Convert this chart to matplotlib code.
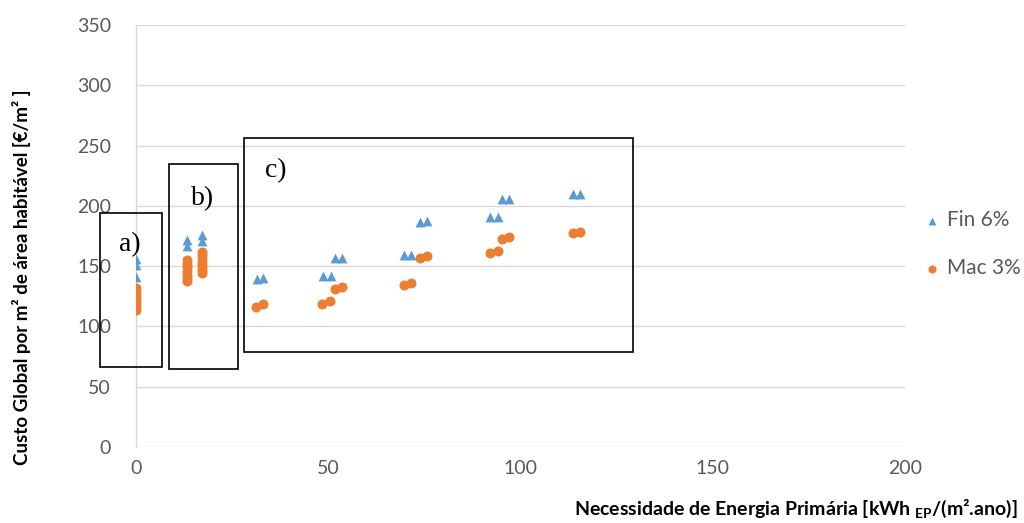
import matplotlib
matplotlib.use("Agg")
import matplotlib.pyplot as plt
from matplotlib.patches import Rectangle

# Primary energy need [kWh_EP/(m².ano)] and global cost [€/m²]
fin_x = [0, 0, 0,
         13.2, 13.2, 17.1, 17.1,
         31.4, 33.1, 48.7, 50.6, 51.8, 53.7, 69.7, 71.5, 73.9, 75.6,
         92.1, 94.1, 95.1, 97.1, 113.7, 115.6]
fin_y = [156, 151, 141,
         172, 167, 176, 171,
         139.5, 140, 142, 142, 156.5, 157, 159.2, 159.5, 186.8, 187.5,
         190.5, 191, 205.4, 206, 209.5, 210]

mac_x = [0, 0, 0, 0, 0, 0, 0,
         13.2, 13.2, 13.2, 13.2, 13.2, 13.2, 13.2,
         17.1, 17.1, 17.1, 17.1, 17.1, 17.1, 17.1,
         31.2, 33.1, 48.5, 50.5, 51.8, 53.7, 69.7, 71.5, 73.9, 75.6,
         92.1, 94.1, 95.1, 97.1, 113.7, 115.6]
mac_y = [132, 129, 126, 123, 120, 117, 114,
         155, 152, 149, 146, 143, 140, 138,
         162, 159, 156, 153, 150, 147, 144,
         116.5, 118.5, 119, 121, 131, 133, 134.3, 136.2, 156.4, 158.2,
         160.6, 162.8, 172.5, 174.2, 177.2, 178.5]

series_labels = ["Fin 6%", "Mac 3%"]
x_ticks = [0, 50, 100, 150, 200]
y_ticks = [0, 50, 100, 150, 200, 250, 300, 350]

# Group boxes around the solution families
group_names = ["a)", "b)", "c)"]
group_x0 = [-9.4, 8.6, 28.1]
group_x1 = [6.8, 26.5, 129.2]
group_y0 = [66.3, 64.7, 78.7]
group_y1 = [194.0, 234.6, 256.1]
label_xy = [(-1.6, 168), (17.4, 206), (36.4, 229)]

blue = "#5B9BD5"
orange = "#ED7D31"
tick_grey = "#595959"

plt.rcParams["font.family"] = ["Lato", "DejaVu Sans"]
plt.rcParams["mathtext.fontset"] = "custom"
plt.rcParams["mathtext.rm"] = "Lato"
plt.rcParams["mathtext.bf"] = "Lato:bold"

fig = plt.figure(figsize=(10.24, 5.23), dpi=100)
ax = fig.add_axes([0.1328, 0.1453, 0.751, 0.807])

ax.scatter(fin_x, fin_y, marker="^", s=50, color=blue, label=series_labels[0],
           zorder=3, linewidths=0)
ax.scatter(mac_x, mac_y, marker="o", s=52, color=orange, label=series_labels[1],
           zorder=3, linewidths=0)

ax.set_xlim(0, 200)
ax.set_ylim(0, 350)
ax.set_xticks(x_ticks)
ax.set_yticks(y_ticks)
ax.tick_params(axis="both", length=0, labelsize=14, colors=tick_grey)
ax.tick_params(axis="y", pad=18)
ax.tick_params(axis="x", pad=9)
ax.grid(axis="y", color="#D9D9D9", linewidth=1)
ax.set_axisbelow(True)
for side in ["top", "right", "bottom"]:
    ax.spines[side].set_visible(False)
ax.spines["left"].set_color("#D9D9D9")
ax.spines["left"].set_linewidth(1)

for name, x0, x1, y0, y1, (lx, ly) in zip(group_names, group_x0, group_x1,
                                          group_y0, group_y1, label_xy):
    ax.add_patch(Rectangle((x0, y0), x1 - x0, y1 - y0, fill=False,
                           edgecolor="black", linewidth=1.2, clip_on=False,
                           zorder=4))
    ax.text(lx, ly, name, fontsize=20, family="Liberation Serif",
            ha="center", va="center", zorder=5)

leg = fig.legend(loc="center left", bbox_to_anchor=(0.88, 0.533),
                 frameon=False, fontsize=15, labelspacing=1.35,
                 handletextpad=0.1, markerscale=0.8, handlelength=1.2)
for t in leg.get_texts():
    t.set_color(tick_grey)

fig.text(0.021, 0.47, "Custo Global por m² de área habitável [€/m² ]",
         rotation=90, ha="center", va="center", fontsize=13.5,
         fontweight="bold")
fig.text(0.994, 0.028,
         r"Necessidade de Energia Primária [kWh $_{\mathbf{EP}}$/(m².ano)]",
         ha="right", va="center", fontsize=14, fontweight="bold")

fig.savefig("out.png", dpi=100)
